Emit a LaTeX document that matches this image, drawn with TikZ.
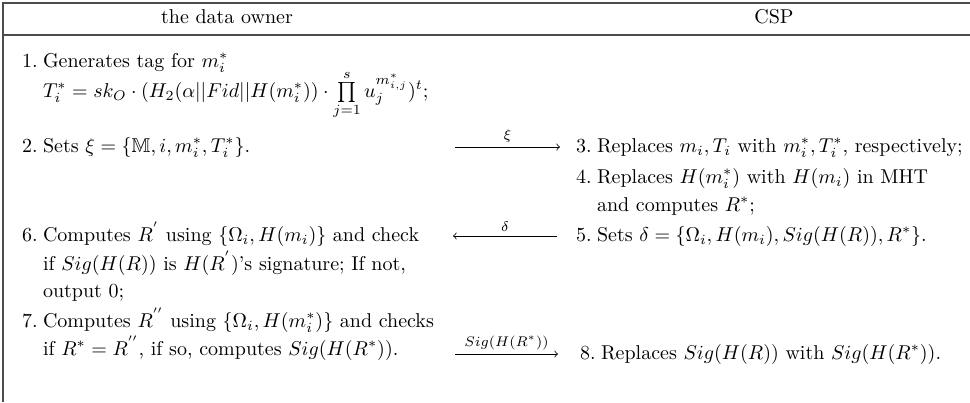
\documentclass[tikz,border=0pt]{standalone}
\usepackage{amsmath,amssymb}
\begin{document}
\begin{tikzpicture}[x=0.5pt,y=-0.5pt,
  rule/.style={line width=0.7pt, draw=black!70},
  txt/.style={anchor=base west, inner sep=0pt, outer sep=0pt},
  hdr/.style={anchor=base, inner sep=0pt, outer sep=0pt},
  msg/.style={-to, line width=0.4pt},
  lbl/.style={above=2.2pt, inner sep=0pt, outer sep=0pt}]
\useasboundingbox (0,0) rectangle (970,402);
% table rules
\coordinate (bl) at (3,402);
\coordinate (tl) at (3,3);
\coordinate (tr) at (970,3);
\coordinate (hl) at (3,35);
\coordinate (hr) at (970,35);
\draw[rule] (bl) -- (tl) -- (tr);
\draw[rule] (hl) -- (hr);
% headers
\node[hdr] (h1) at (227,23) {the data owner};
\node[hdr] (h2) at (774,23) {CSP};
% data owner column
\node[txt] (n1) at (22,67) {1.};
\node[txt] (t1) at (43,67) {Generates tag for $m_i^*$};
\node[txt] (t1b) at (43,97) {$T_i^* = sk_O\cdot(H_2(\alpha||Fid||H(m_i^*))\cdot\prod\limits_{j=1}^{s}u_j^{m_{i,j}^*})^t;$};
\node[txt] (n2) at (22,152) {2.};
\node[txt] (t2) at (43,152) {Sets $\xi=\{\mathbb{M},i,m_i^*,T_i^*\}$.};
\node[txt] (n6) at (22,241) {6.};
\node[txt] (t6) at (43,241) {Computes $R^{'}$ using $\{\Omega_i,H(m_i)\}$ and check};
\node[txt] (t6b) at (43,270) {if $Sig(H(R))$ is $H(R^{'})$'s signature; If not,};
\node[txt] (t6c) at (43,297) {output 0;};
\node[txt] (n7) at (22,327) {7.};
\node[txt] (t7) at (43,327) {Computes $R^{''}$ using $\{\Omega_i,H(m_i^*)\}$ and checks};
\node[txt] (t7b) at (43,355) {if $R^*=R^{''}$, if so, computes $Sig(H(R^*))$.};
% CSP column
\node[txt] (n3) at (576,152) {3.};
\node[txt] (t3) at (597,152) {Replaces $m_i,T_i$ with $m_i^*,T_i^*$, respectively;};
\node[txt] (n4) at (576,183) {4.};
\node[txt] (t4) at (597,183) {Replaces $H(m_i^*)$ with $H(m_i)$ in MHT};
\node[txt] (t4b) at (597,211) {and computes $R^*$;};
\node[txt] (n5) at (576,241) {5.};
\node[txt] (t5) at (597,241) {Sets $\delta=\{\Omega_i,H(m_i),Sig(H(R)),R^*\}$.};
\node[txt] (n8) at (580,359) {8.};
\node[txt] (t8) at (601,359) {Replaces $Sig(H(R))$ with $Sig(H(R^*))$.};
% messages
\coordinate (a1s) at (455,147);
\coordinate (a1e) at (560,147);
\coordinate (a2s) at (557,236);
\coordinate (a2e) at (453,236);
\coordinate (a3s) at (455,354);
\coordinate (a3e) at (558,354);
\draw[msg] (a1s) -- (a1e) node[lbl, midway] (l1) {$\scriptstyle\xi$};
\draw[msg] (a2s) -- (a2e) node[lbl, midway] (l2) {$\scriptstyle\delta$};
\draw[msg] (a3s) -- (a3e) node[lbl, midway] (l3) {$\scriptstyle Sig(H(R^*))$};
\end{tikzpicture}
\end{document}
